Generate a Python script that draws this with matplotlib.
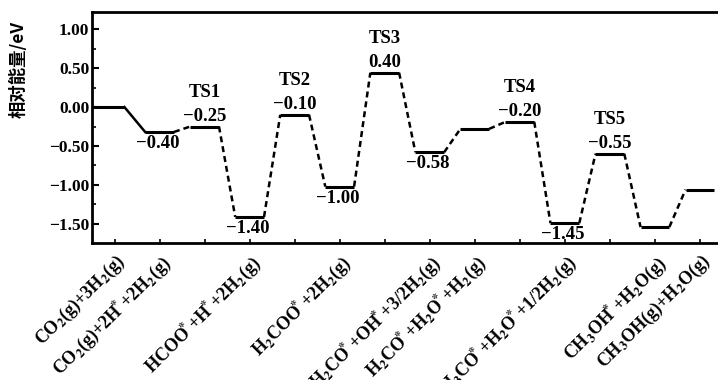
import matplotlib
matplotlib.use("Agg")
import matplotlib.pyplot as plt
from matplotlib.ticker import MultipleLocator

plt.rcParams['font.family'] = ['Liberation Serif', 'DejaVu Serif']
plt.rcParams['font.weight'] = 'bold'
plt.rcParams['mathtext.fontset'] = 'stix'
plt.rcParams['mathtext.default'] = 'bf'

# ---- data ----
positions = list(range(14))
energies = [0.00, -0.32, -0.25, -1.41, -0.10, -1.02, 0.44, -0.58, -0.28, -0.19, -1.49, -0.60, -1.54, -1.06]
ts_names = ['', '', 'TS1', '', 'TS2', '', 'TS3', '', '', 'TS4', '', 'TS5', '', '']
value_labels = ['', '−0.40', '−0.25', '−1.40', '−0.10', '−1.00', '0.40', '−0.58', '', '−0.20', '−1.45', '−0.55', '', '']
tick_index = [0, 1, 3, 5, 7, 8, 10, 12, 13]
S = '$^{\\!\\!\\!*}$'
tick_labels = [
    'CO$_2$(g)+3H$_2$(g)',
    'CO$_2$(g)+2H' + S + '+2H$_2$(g)',
    'HCOO' + S + '+H' + S + '+2H$_2$(g)',
    'H$_2$COO' + S + '+2H$_2$(g)',
    'H$_2$CO' + S + '+OH' + S + '+3/2H$_2$(g)',
    'H$_2$CO' + S + '+H$_2$O' + S + '+H$_2$(g)',
    'H$_3$CO' + S + '+H$_2$O' + S + '+1/2H$_2$(g)',
    'CH$_3$OH' + S + '+H$_2$O(g)',
    'CH$_3$OH(g)+H$_2$O(g)',
]
yticks = [1.00, 0.50, 0.00, -0.50, -1.00, -1.50]

# ---- figure ----
W, H = 718, 380
fig = plt.figure(figsize=(W / 100, H / 100), dpi=100)
ax = fig.add_axes([92 / W, 1 - 243 / H, 630.5 / W, 231 / H])
ax.set_xlim(-0.5, 13.5)
ax.set_ylim(-1.745, 1.22)

hw = 0.32
lw_level = 2.2
lw_conn = 1.8
for i, (x, e) in enumerate(zip(positions, energies)):
    left = ax.get_xlim()[0] if i == 0 else x - hw
    right = x + 0.22 if i == 0 else x + hw
    ax.plot([left, right], [e, e], color='black', lw=lw_level, solid_capstyle='butt')
    if i < len(positions) - 1:
        nx, ne = positions[i + 1], energies[i + 1]
        ls = '-' if i == 0 else (0, (2.4, 1.6))
        ax.plot([right, nx - hw], [e, ne], color='black', lw=lw_conn, linestyle=ls)

for i, (x, e) in enumerate(zip(positions, energies)):
    is_ts = ts_names[i] != ''
    if value_labels[i]:
        if is_ts:
            ax.annotate(value_labels[i], (x, e), xytext=(0, 2), textcoords='offset pixels',
                        ha='center', va='bottom', fontsize=13.5)
        else:
            ax.annotate(value_labels[i], (x, e), xytext=(-2, -3), textcoords='offset pixels',
                        ha='center', va='top', fontsize=13.5)
    if is_ts:
        ax.annotate(ts_names[i], (x, e), xytext=(0, 26), textcoords='offset pixels',
                    ha='center', va='bottom', fontsize=13.5)

ax.set_yticks(yticks)
ax.set_yticklabels([f'{v:.2f}'.replace('-', '−') for v in yticks], fontsize=12.5)
ax.yaxis.set_minor_locator(MultipleLocator(0.25))
ax.set_xticks([positions[i] for i in tick_index])
ax.set_xticklabels(tick_labels, rotation=45, ha='right', va='top',
                   rotation_mode='anchor', fontsize=13)
ax.set_xticks(positions, minor=True)
ax.tick_params(axis='x', which='both', direction='in', length=3, width=1.2, pad=6)
ax.tick_params(axis='y', which='major', direction='in', length=5, width=1.5, pad=2)
ax.tick_params(axis='y', which='minor', direction='in', length=3, width=1.2)
for s in ax.spines.values():
    s.set_linewidth(2)

fig.text(19 / W, 1 - 69 / H, '相对能量/eV', rotation=90, ha='center', va='center',
         fontsize=12.5, fontweight='bold', family=['Noto Sans CJK SC', 'DejaVu Sans'])

fig.savefig('out.png', dpi=100)
